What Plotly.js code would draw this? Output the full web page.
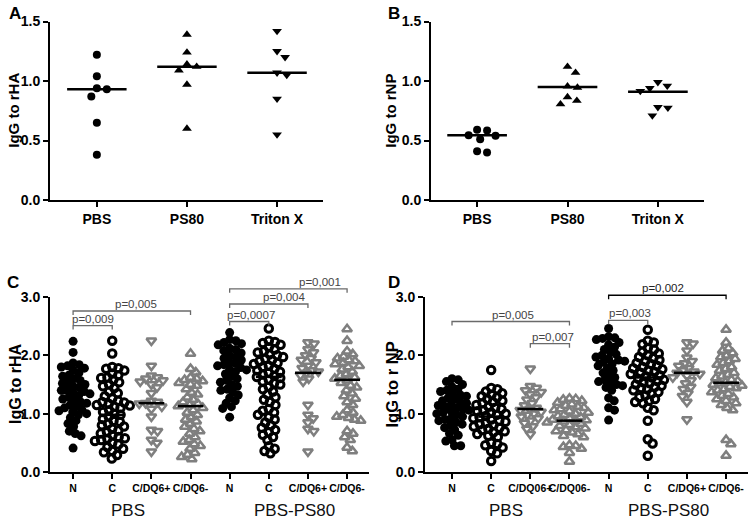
<!DOCTYPE html>
<html>
<head>
<meta charset="utf-8">
<script src="https://cdn.plot.ly/plotly-3.0.1.min.js"></script>
<style>html,body{margin:0;padding:0;background:#fff}#chart{width:751px;height:523px}</style>
</head>
<body>
<div id="chart"></div>
<script>
// ---------------- DATA ----------------
const catsAB = ['PBS', 'PS80', 'Triton X'];
const catsC = ['N', 'C', 'C/DQ6+', 'C/DQ6-', 'N', 'C', 'C/DQ6+', 'C/DQ6-'];
const catsD = ['N', 'C', 'C/DQ06+', 'C/DQ06-', 'N', 'C', 'C/DQ6+', 'C/DQ6-'];
const groupLabels = ['PBS', 'PBS-PS80'];

// Panel A: IgG to rHA
const A_PBS = [1.22, 1.04, 0.94, 0.93, 0.87, 0.65, 0.38];
const A_PS80 = [1.39, 1.24, 1.14, 1.09, 1.12, 0.97, 0.60];
const A_Triton = [1.42, 1.25, 1.20, 1.05, 1.07, 0.85, 0.55];
const A_medians = [0.93, 1.12, 1.07];

// Panel B: IgG to rNP
const B_PBS = [0.585, 0.545, 0.51, 0.54, 0.59, 0.40, 0.41];
const B_PS80 = [1.07, 1.12, 0.955, 0.945, 0.865, 0.835, 0.805];
const B_Triton = [0.99, 0.94, 0.915, 0.96, 0.78, 0.775, 0.71];
const B_medians = [0.545, 0.95, 0.91];

// Panel C: IgG to rHA
const C_PBS_N = [2.24, 2.05, 1.87, 1.84, 1.82, 1.80, 1.78, 1.74, 1.70, 1.66, 1.64, 1.60, 1.57, 1.55, 1.52, 1.50, 1.47, 1.45, 1.42, 1.40, 1.38, 1.36, 1.34, 1.31, 1.28, 1.25, 1.23, 1.20, 1.18, 1.15, 1.12, 1.10, 1.07, 1.05, 1.03, 1.00, 0.98, 0.93, 0.88, 0.83, 0.78, 0.70, 0.66, 0.62, 0.41];
const C_PBS_C = [2.25, 2.03, 1.80, 1.78, 1.77, 1.74, 1.69, 1.66, 1.62, 1.61, 1.58, 1.54, 1.50, 1.47, 1.44, 1.38, 1.35, 1.30, 1.26, 1.22, 1.20, 1.19, 1.17, 1.15, 1.14, 1.12, 1.10, 1.06, 1.03, 1.00, 0.98, 0.95, 0.91, 0.88, 0.86, 0.83, 0.80, 0.78, 0.74, 0.71, 0.68, 0.66, 0.63, 0.60, 0.58, 0.57, 0.55, 0.53, 0.50, 0.47, 0.43, 0.40, 0.36, 0.34, 0.29, 0.23];
const C_PBS_DQ6p = [2.25, 1.82, 1.65, 1.62, 1.60, 1.57, 1.55, 1.50, 1.45, 1.35, 1.22, 1.20, 1.18, 1.17, 1.12, 1.08, 0.95, 0.72, 0.70, 0.55, 0.50, 0.35];
const C_PBS_DQ6m = [2.03, 1.77, 1.71, 1.62, 1.60, 1.58, 1.56, 1.53, 1.50, 1.48, 1.42, 1.36, 1.33, 1.28, 1.24, 1.20, 1.17, 1.15, 1.13, 1.10, 1.06, 1.02, 0.98, 0.94, 0.90, 0.87, 0.83, 0.78, 0.74, 0.70, 0.66, 0.60, 0.55, 0.52, 0.48, 0.45, 0.40, 0.33, 0.30, 0.26, 0.22];
const C_PS80_N = [2.39, 2.27, 2.25, 2.22, 2.20, 2.18, 2.12, 2.10, 2.08, 2.04, 2.00, 1.97, 1.95, 1.92, 1.88, 1.86, 1.84, 1.82, 1.79, 1.76, 1.75, 1.72, 1.68, 1.64, 1.60, 1.57, 1.54, 1.50, 1.47, 1.42, 1.40, 1.37, 1.32, 1.27, 1.22, 1.18, 1.12, 1.09, 0.94];
const C_PS80_C = [2.46, 2.25, 2.23, 2.21, 2.18, 2.14, 2.10, 2.07, 2.05, 2.02, 2.00, 1.97, 1.94, 1.92, 1.90, 1.87, 1.85, 1.82, 1.80, 1.77, 1.74, 1.72, 1.70, 1.67, 1.65, 1.63, 1.61, 1.58, 1.55, 1.52, 1.50, 1.46, 1.42, 1.38, 1.33, 1.28, 1.24, 1.20, 1.15, 1.08, 1.05, 1.02, 0.98, 0.94, 0.90, 0.85, 0.80, 0.76, 0.72, 0.68, 0.64, 0.60, 0.55, 0.44, 0.40, 0.36, 0.32];
const C_PS80_DQ6p = [2.22, 2.20, 2.10, 2.05, 2.00, 1.95, 1.92, 1.88, 1.82, 1.78, 1.74, 1.72, 1.70, 1.66, 1.60, 1.55, 1.15, 0.98, 0.92, 0.85, 0.74, 0.70, 0.35];
const C_PS80_DQ6m = [2.45, 2.25, 2.07, 2.02, 1.98, 1.95, 1.92, 1.90, 1.87, 1.85, 1.82, 1.80, 1.76, 1.72, 1.68, 1.65, 1.62, 1.60, 1.57, 1.53, 1.48, 1.45, 1.40, 1.35, 1.30, 1.26, 1.20, 1.15, 1.06, 1.02, 0.98, 0.95, 0.93, 0.90, 0.88, 0.70, 0.66, 0.60, 0.55, 0.42, 0.36];
const C_medians = [1.35, 0.98, 1.18, 1.13, 1.85, 1.63, 1.70, 1.58];

// Panel D: IgG to r NP
const D_PBS_N = [1.60, 1.58, 1.55, 1.50, 1.46, 1.42, 1.40, 1.38, 1.35, 1.32, 1.30, 1.27, 1.25, 1.22, 1.20, 1.18, 1.16, 1.14, 1.12, 1.10, 1.08, 1.06, 1.04, 1.02, 1.00, 0.98, 0.95, 0.92, 0.90, 0.88, 0.85, 0.82, 0.80, 0.76, 0.72, 0.66, 0.63, 0.55, 0.53, 0.45, 0.45];
const D_PBS_C = [1.75, 1.44, 1.42, 1.38, 1.35, 1.33, 1.30, 1.28, 1.25, 1.22, 1.20, 1.18, 1.15, 1.12, 1.10, 1.08, 1.06, 1.04, 1.02, 1.00, 0.98, 0.96, 0.94, 0.92, 0.90, 0.88, 0.86, 0.84, 0.82, 0.80, 0.78, 0.76, 0.74, 0.72, 0.70, 0.68, 0.65, 0.62, 0.60, 0.50, 0.48, 0.46, 0.42, 0.36, 0.32, 0.19];
const D_PBS_DQ6p = [1.77, 1.47, 1.44, 1.40, 1.37, 1.33, 1.28, 1.24, 1.18, 1.14, 1.10, 1.08, 1.06, 1.03, 1.00, 0.98, 0.95, 0.92, 0.88, 0.84, 0.78, 0.74, 0.65];
const D_PBS_DQ6m = [1.26, 1.25, 1.24, 1.22, 1.19, 1.16, 1.14, 1.12, 1.10, 1.08, 1.06, 1.04, 1.02, 1.00, 0.98, 0.96, 0.94, 0.92, 0.90, 0.89, 0.88, 0.87, 0.85, 0.83, 0.81, 0.79, 0.77, 0.75, 0.72, 0.70, 0.68, 0.65, 0.62, 0.60, 0.46, 0.45, 0.43, 0.40, 0.33, 0.18];
const D_PS80_N = [2.46, 2.32, 2.30, 2.29, 2.27, 2.22, 2.18, 2.14, 2.10, 2.06, 2.02, 2.00, 1.97, 1.94, 1.92, 1.90, 1.88, 1.85, 1.82, 1.78, 1.74, 1.70, 1.66, 1.62, 1.58, 1.55, 1.53, 1.50, 1.48, 1.45, 1.40, 1.27, 1.22, 1.10, 1.06, 0.89];
const D_PS80_C = [2.44, 2.25, 2.22, 2.19, 2.12, 2.10, 2.06, 2.03, 2.00, 1.97, 1.95, 1.92, 1.90, 1.87, 1.85, 1.82, 1.80, 1.78, 1.76, 1.74, 1.72, 1.70, 1.68, 1.66, 1.64, 1.62, 1.60, 1.58, 1.56, 1.54, 1.52, 1.50, 1.48, 1.46, 1.44, 1.42, 1.40, 1.37, 1.34, 1.31, 1.28, 1.25, 1.22, 1.20, 1.18, 1.10, 1.06, 0.88, 0.56, 0.49, 0.28];
const D_PS80_DQ6p = [2.22, 2.20, 2.08, 1.96, 1.90, 1.86, 1.82, 1.78, 1.74, 1.72, 1.70, 1.68, 1.65, 1.62, 1.57, 1.52, 1.46, 1.42, 1.35, 1.30, 1.20, 0.90];
const D_PS80_DQ6m = [2.44, 2.22, 2.12, 2.08, 2.04, 2.00, 1.97, 1.94, 1.90, 1.87, 1.84, 1.80, 1.77, 1.74, 1.70, 1.67, 1.64, 1.61, 1.58, 1.56, 1.54, 1.52, 1.50, 1.48, 1.46, 1.44, 1.42, 1.40, 1.37, 1.34, 1.31, 1.28, 1.25, 1.22, 1.18, 1.15, 1.10, 1.06, 0.55, 0.48, 0.28];
const D_medians = [1.10, 0.95, 1.08, 0.88, 1.90, 1.62, 1.70, 1.53];

// significance brackets
const C_sig_from = [0, 0, 4, 4, 4];
const C_sig_to = [1, 3, 5, 6, 7];
const C_sig_level = [2.51, 2.76, 2.58, 2.88, 3.14];
const C_sig_text = ['p=0,009', 'p=0,005', 'p=0,0007', 'p=0,004', 'p=0,001'];
const C_sig_textx = [0.51, 1.61, 4.54, 5.40, 6.31];
const D_sig_from = [0, 2, 4, 4];
const D_sig_to = [3, 3, 5, 7];
const D_sig_level = [2.58, 2.20, 2.60, 3.03];
const D_sig_text = ['p=0,005', 'p=0,007', 'p=0,003', 'p=0,002'];
const D_sig_textx = [1.57, 2.57, 4.55, 5.38];

// ---------------- LAYOUT GEOMETRY ----------------
const W = 751, H = 523;
const FONT = 'Liberation Sans, Arial, Helvetica, sans-serif';
const panels = {
  A: {xa: 'x', ya: 'y', px: [50, 323], py: [21.5, 200], xr: [-0.52, 2.51], yr: [0, 1.5], dtick: 0.5},
  B: {xa: 'x2', ya: 'y2', px: [431, 704], py: [21.5, 200], xr: [-0.51, 2.51], yr: [0, 1.5], dtick: 0.5},
  C: {xa: 'x3', ya: 'y3', px: [50, 369], py: [297, 472], xr: [-0.59, 7.56], yr: [0, 3], dtick: 1},
  D: {xa: 'x4', ya: 'y4', px: [425, 748], py: [297, 472], xr: [-0.69, 7.56], yr: [0, 3], dtick: 1}
};

const BLACK = '#000000', GRAY = '#7f7f7f';
const styleAB = [
  {symbol: 'circle', size: 8, color: BLACK, line: {width: 0}},
  {symbol: 'triangle-up', size: 8.5, color: BLACK, line: {width: 0}},
  {symbol: 'triangle-down', size: 8.5, color: BLACK, line: {width: 0}}
];
const styleCD = [
  {symbol: 'circle', size: 9, color: BLACK, line: {width: 0}},
  {symbol: 'circle-open', size: 7.5, color: BLACK, line: {width: 3, color: BLACK}},
  {symbol: 'triangle-down-open', size: 8.5, color: GRAY, line: {width: 2.5, color: GRAY}},
  {symbol: 'triangle-up-open', size: 8.5, color: GRAY, line: {width: 2.5, color: GRAY}}
];

// beeswarm: spread points horizontally so markers do not fully overlap
function swarm(values, pxX, pxY, diam) {
  const order = values.map((v, i) => i).sort((a, b) => values[b] - values[a]);
  const placed = [];
  const off = new Array(values.length).fill(0);
  for (const i of order) {
    const y = values[i] * pxY;
    const cands = [0];
    for (const p of placed) {
      const dy = Math.abs(p.y - y);
      if (dy < diam) {
        const dx = Math.sqrt(diam * diam - dy * dy) + 0.01;
        cands.push(p.x + dx, p.x - dx);
      }
    }
    cands.sort((a, b) => Math.abs(a) - Math.abs(b));
    let chosen = 0;
    for (const c of cands) {
      if (placed.every(p => (p.x - c) * (p.x - c) + (p.y - y) * (p.y - y) >= diam * diam - 1e-6)) { chosen = c; break; }
    }
    placed.push({x: chosen, y: y});
    off[i] = chosen / pxX;
  }
  return off;
}

const traces = [];
function addPanel(key, groups, styles, medians, diam) {
  const P = panels[key];
  const pxX = (P.px[1] - P.px[0]) / (P.xr[1] - P.xr[0]);
  const pxY = (P.py[1] - P.py[0]) / (P.yr[1] - P.yr[0]);
  groups.forEach((vals, gi) => {
    const off = swarm(vals, pxX, pxY, diam);
    const st = styles[gi % styles.length];
    traces.push({
      type: 'scatter', mode: 'markers', xaxis: P.xa, yaxis: P.ya,
      x: vals.map((v, k) => gi + off[k]), y: vals,
      marker: {symbol: st.symbol, size: st.size, color: st.color, line: st.line},
      cliponaxis: false, showlegend: false, hoverinfo: 'skip'
    });
  });
  medians.forEach((m, gi) => {
    traces.push({
      type: 'scatter', mode: 'lines', xaxis: P.xa, yaxis: P.ya,
      x: [gi - 0.33, gi + 0.33], y: [m, m],
      line: {color: BLACK, width: 2.5}, showlegend: false, hoverinfo: 'skip'
    });
  });
}

addPanel('A', [A_PBS, A_PS80, A_Triton], styleAB, A_medians, 10);
addPanel('B', [B_PBS, B_PS80, B_Triton], styleAB, B_medians, 10);
addPanel('C', [C_PBS_N, C_PBS_C, C_PBS_DQ6p, C_PBS_DQ6m, C_PS80_N, C_PS80_C, C_PS80_DQ6p, C_PS80_DQ6m], styleCD, C_medians, 6.3);
addPanel('D', [D_PBS_N, D_PBS_C, D_PBS_DQ6p, D_PBS_DQ6m, D_PS80_N, D_PS80_C, D_PS80_DQ6p, D_PS80_DQ6m], styleCD, D_medians, 6.3);

function xAxis(key, cats, fsize) {
  const P = panels[key];
  return {
    domain: [P.px[0] / W, P.px[1] / W], range: P.xr, anchor: P.ya,
    tickmode: 'array', tickvals: cats.map((c, i) => i), ticktext: cats, tickangle: 0,
    showline: true, linecolor: BLACK, linewidth: 2, ticks: 'outside', ticklen: 5, tickwidth: 2, tickcolor: BLACK,
    showgrid: false, zeroline: false, fixedrange: true,
    tickfont: {family: FONT, size: fsize, color: BLACK, weight: 'bold'}
  };
}
function yAxis(key) {
  const P = panels[key];
  return {
    domain: [1 - P.py[1] / H, 1 - P.py[0] / H], range: P.yr, anchor: P.xa,
    tickmode: 'linear', tick0: 0, dtick: P.dtick, tickformat: '.1f',
    showline: true, linecolor: BLACK, linewidth: 2, ticks: 'outside', ticklen: 5, tickwidth: 2, tickcolor: BLACK,
    showgrid: false, zeroline: false, fixedrange: true,
    tickfont: {family: FONT, size: 14, color: BLACK, weight: 'bold'}
  };
}

const annotations = [];
const shapes = [];
function txt(text, x, y, size, opts) {
  annotations.push(Object.assign({
    text: text, x: x / W, y: 1 - y / H, xref: 'paper', yref: 'paper',
    showarrow: false, xanchor: 'center', yanchor: 'middle',
    font: {family: FONT, size: size, color: BLACK}
  }, opts || {}));
}
// panel letters
txt('A', 15, 14, 17, {font: {family: FONT, size: 17, color: BLACK, weight: 'bold'}});
txt('B', 394, 14, 17, {font: {family: FONT, size: 17, color: BLACK, weight: 'bold'}});
txt('C', 13, 282, 17, {font: {family: FONT, size: 17, color: BLACK, weight: 'bold'}});
txt('D', 394, 282, 17, {font: {family: FONT, size: 17, color: BLACK, weight: 'bold'}});
// y titles
const yTitles = [['IgG to rHA', 'A', 14, 15], ['IgG to rNP', 'B', 391, 15], ['IgG to rHA', 'C', 15.5, 16], ['IgG to r NP', 'D', 391, 16.5]];
yTitles.forEach(t => {
  const P = panels[t[1]];
  txt(t[0], t[2], (P.py[0] + P.py[1]) / 2, t[3], {textangle: -90, font: {family: FONT, size: t[3], color: BLACK, weight: 'bold'}});
});
// group labels under C and D
[['C', [1.41, 5.65]], ['D', [1.38, 5.52]]].forEach(g => {
  const P = panels[g[0]];
  g[1].forEach((gx, i) => {
    annotations.push({
      text: groupLabels[i], x: gx, xref: P.xa, y: 1 - 510 / H, yref: 'paper',
      showarrow: false, xanchor: 'center', yanchor: 'middle',
      font: {family: FONT, size: 17, color: '#111111'}
    });
  });
});
// significance brackets
function addSig(key, from, to, level, text, textx, colors) {
  const P = panels[key];
  const ymax = P.yr[1];
  const pxY = (P.py[1] - P.py[0]) / ymax;
  const tail = 4 / pxY;
  const toPaper = v => 1 - (P.py[1] - v * pxY) / H;
  from.forEach((f, i) => {
    const t = to[i], y = level[i];
    const c = colors[i];
    shapes.push({
      type: 'path', xref: P.xa, yref: 'paper',
      path: `M ${f},${toPaper(y - tail)} L ${f},${toPaper(y)} L ${t},${toPaper(y)} L ${t},${toPaper(y - tail)}`,
      line: {color: c, width: 1.3}
    });
    annotations.push({
      text: text[i], x: textx[i], xref: P.xa, y: toPaper(y), yref: 'paper',
      showarrow: false, xanchor: 'center', yanchor: 'bottom', yshift: -1,
      font: {family: FONT, size: 11.5, color: c === BLACK ? '#222222' : '#444444'}
    });
  });
}
addSig('C', C_sig_from, C_sig_to, C_sig_level, C_sig_text, C_sig_textx, ['#6a6a6a', '#6a6a6a', '#6a6a6a', '#6a6a6a', '#6a6a6a']);
addSig('D', D_sig_from, D_sig_to, D_sig_level, D_sig_text, D_sig_textx, ['#6a6a6a', '#6a6a6a', '#6a6a6a', BLACK]);

const layout = {
  width: W, height: H, margin: {l: 0, r: 0, t: 0, b: 0, pad: 0},
  paper_bgcolor: '#ffffff', plot_bgcolor: '#ffffff', showlegend: false,
  font: {family: FONT, color: BLACK},
  xaxis: xAxis('A', catsAB, 14), yaxis: yAxis('A'),
  xaxis2: xAxis('B', catsAB, 14), yaxis2: yAxis('B'),
  xaxis3: xAxis('C', catsC, 10.5), yaxis3: yAxis('C'),
  xaxis4: xAxis('D', catsD, 10.5), yaxis4: yAxis('D'),
  annotations: annotations, shapes: shapes, hovermode: false
};

Plotly.newPlot('chart', traces, layout, {staticPlot: true, displayModeBar: false});
</script>
</body>
</html>
